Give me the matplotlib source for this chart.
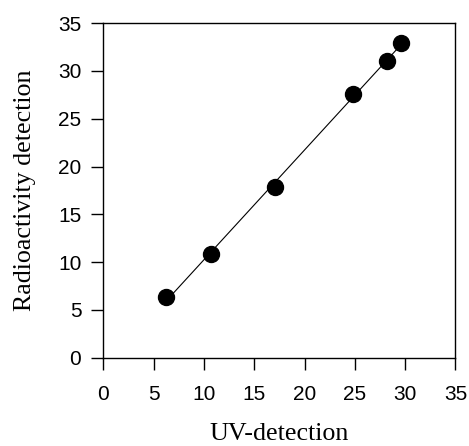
import numpy as np
import matplotlib
matplotlib.use("Agg")
import matplotlib.pyplot as plt

uv = [6.2, 10.7, 17.1, 24.8, 28.2, 29.6]
radio = [6.3, 10.8, 17.9, 27.6, 31.0, 32.9]
ticks = [0, 5, 10, 15, 20, 25, 30, 35]

fig = plt.figure(figsize=(4.69, 4.46), dpi=100)
ax = fig.add_axes([0.2205, 0.198, 0.7505, 0.750])

slope, intercept = np.polyfit(uv, radio, 1)
xs = np.array([min(uv), max(uv)])
ax.plot(xs, slope * xs + intercept, color="black", lw=0.8, zorder=2)
ax.plot(uv, radio, "o", color="black", markersize=11.5, zorder=3)

ax.set_xlim(0, 35)
ax.set_ylim(0, 35)
ax.set_xticks(ticks)
ax.set_yticks(ticks)
ax.tick_params(direction="out", length=8.4, width=1.0, labelsize=15, top=False, right=False)
ax.tick_params(axis="x", pad=11)
ax.tick_params(axis="y", pad=7.5)
for lab in ax.get_xticklabels() + ax.get_yticklabels():
    lab.set_fontfamily("Liberation Sans")
for s in ax.spines.values():
    s.set_linewidth(1.0)

ax.set_xlabel("UV-detection", fontsize=18.7, family="Liberation Serif", labelpad=14)
ax.set_ylabel("Radioactivity detection", fontsize=18.7, family="Liberation Serif", labelpad=15.5)

fig.savefig("out.png", dpi=100)
